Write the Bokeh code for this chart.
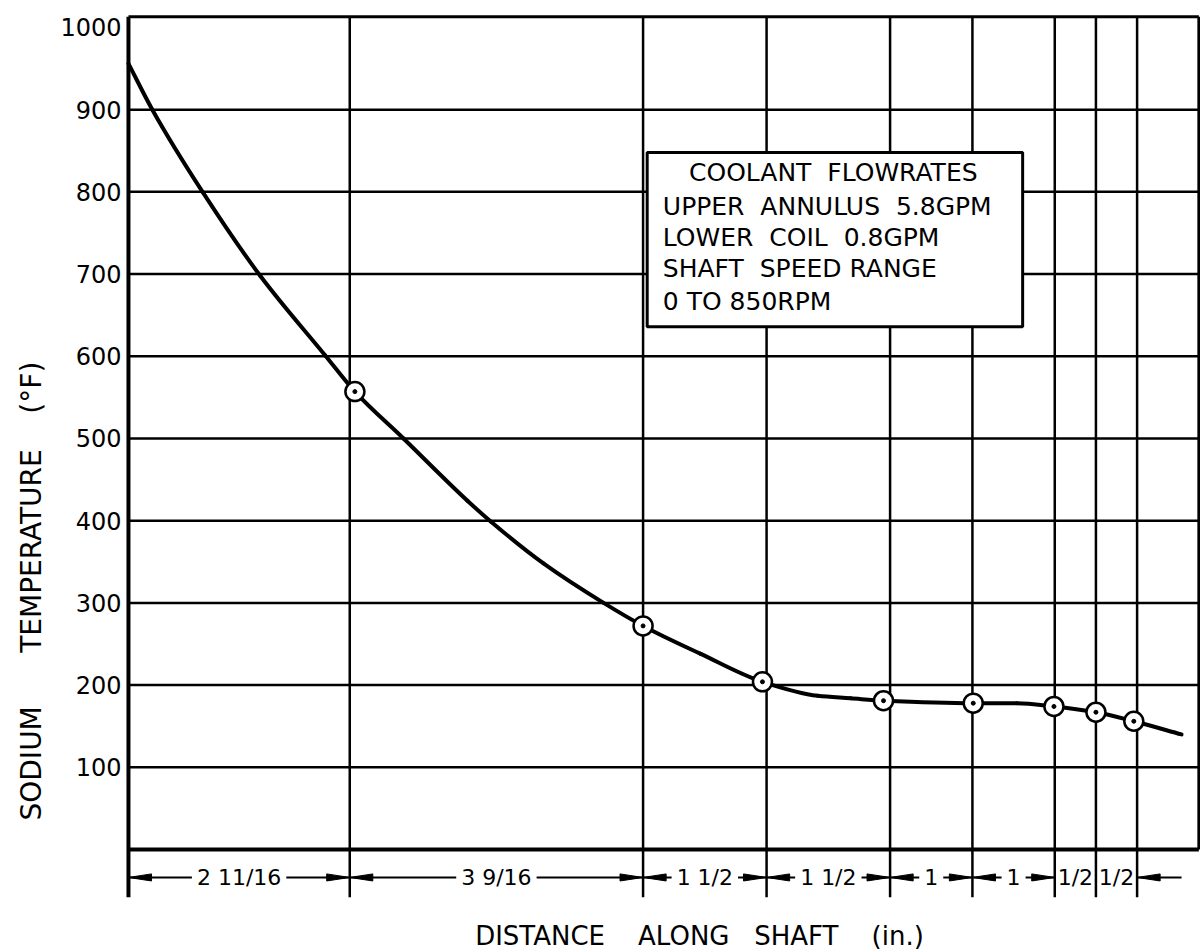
import math
import numpy as np
from bokeh.plotting import figure
from bokeh.models import Range1d, FixedTicker, Label, BoxAnnotation, Title
from bokeh.embed import file_html
from bokeh.resources import INLINE

FONT = "DejaVu Sans"
SP = "\u00a0"

# ---- data -------------------------------------------------------------
seg_lengths = [2.6875, 3.5625, 1.5, 1.5, 1.0, 1.0, 0.5, 0.5]          # inches between stations
seg_labels = ["2 11/16", "3 9/16", "1 1/2", "1 1/2", "1", "1", "1/2", "1/2"]
shaft_end = 13.0

# measured points (circles) - sodium temperature at stations
pt_x = [2.75, 6.25, 7.70, 9.17, 10.26, 11.24, 11.75, 12.21]
pt_y = [557, 272, 204, 181, 178, 174, 167, 156]

# faired curve
curve_x = [0.0, 0.29, 0.90, 1.60, 2.39, 2.75, 3.34, 4.12, 4.40, 5.04, 5.77, 6.25,
           6.95, 7.70, 8.37, 8.77, 9.17, 10.26, 10.79, 11.24, 11.75, 12.21, 12.79]
curve_y = [956, 900, 800, 698, 601, 557, 500, 424, 399, 348, 300, 272,
           238, 204, 187, 184, 181, 178, 178, 174, 167, 156, 140]

y_ticks = [100, 200, 300, 400, 500, 600, 700, 800, 900, 1000]
grid_y = [100, 200, 300, 400, 500, 600, 700, 800, 900]

legend_title = "COOLANT" + " " + SP + "FLOWRATES"
legend_lines = ["UPPER " + SP + "ANNULUS " + SP + "5.8GPM",
                "LOWER " + SP + "COIL " + SP + "0.8GPM",
                "SHAFT " + SP + "SPEED RANGE",
                "0 TO 850RPM"]
x_title = "DISTANCE " + SP * 3 + "ALONG " + SP * 2 + "SHAFT " + SP * 3 + "(in.)"
y_title = "SODIUM " + SP * 5 + "TEMPERATURE " + SP * 3 + "(°F)"

# ---- layout constants --------------------------------------------------
frame_top = 1013          # drawn top border of the chart
dim_y = -34               # dimension line level
dim_low = -58             # bottom of the extension lines

stations = np.concatenate([[0.0], np.cumsum(seg_lengths)])

p = figure(width=1200, height=952,
           x_range=Range1d(-0.036, 13.02), y_range=Range1d(-125.3, 1018.2),
           output_backend="svg", toolbar_location=None,
           x_axis_location=None,
           min_border_left=125, min_border_right=0,
           min_border_top=12, min_border_bottom=0)
p.outline_line_color = None
p.grid.visible = False
p.background_fill_color = "white"
p.border_fill_color = "white"

ax = p.yaxis[0]
ax.ticker = FixedTicker(ticks=y_ticks)
ax.axis_line_color = None
ax.major_tick_line_color = None
ax.minor_tick_line_color = None
ax.major_tick_out = 0
ax.major_label_standoff = 4
ax.major_label_text_font = FONT
ax.major_label_text_font_size = "24px"
ax.major_label_text_color = "black"

p.add_layout(Title(text=y_title, align="left", offset=132, standoff=20,
                   text_font=FONT, text_font_size="28px", text_font_style="normal",
                   text_color="black"), "left")

ink = "black"

# horizontal grid
n = len(grid_y)
p.segment(x0=[0.0] * n, y0=grid_y, x1=[shaft_end] * n, y1=grid_y,
          line_color=ink, line_width=2.5)
# top border
p.segment(x0=[0.0], y0=[frame_top], x1=[shaft_end], y1=[frame_top],
          line_color=ink, line_width=3)
# station lines
st = list(stations[1:])
p.segment(x0=st, y0=[dim_low] * len(st), x1=st, y1=[frame_top] * len(st),
          line_color=ink, line_width=2.5)
# left axis line
p.segment(x0=[0.0], y0=[dim_low], x1=[0.0], y1=[frame_top],
          line_color=ink, line_width=4)
# right border
p.segment(x0=[shaft_end], y0=[0], x1=[shaft_end], y1=[frame_top],
          line_color=ink, line_width=3)
# bottom axis line
p.segment(x0=[0.0], y0=[0], x1=[shaft_end], y1=[0],
          line_color=ink, line_width=4)

# ---- dimension arrows ---------------------------------------------------
head_len = 0.28
head_half = 4.3
dx0, dx1 = [], []
tri_xs, tri_ys = [], []

def head(tip, direction):
    base = tip - direction * head_len
    tri_xs.append([tip, base, base])
    tri_ys.append([dim_y, dim_y + head_half, dim_y - head_half])

for i, L in enumerate(seg_lengths):
    a, b = stations[i], stations[i + 1]
    if L >= 1.0:
        dx0.append(a)
        dx1.append(b)
        head(a, -1)
        head(b, +1)

tail_end = 12.79
dx0.append(stations[-1])
dx1.append(tail_end)
head(stations[-1], -1)

p.segment(x0=dx0, y0=[dim_y] * len(dx0), x1=dx1, y1=[dim_y] * len(dx1),
          line_color=ink, line_width=2)
p.patches(xs=tri_xs, ys=tri_ys, fill_color=ink, line_color=ink, line_width=1)

for i, (L, txt) in enumerate(zip(seg_lengths, seg_labels)):
    mid = (stations[i] + stations[i + 1]) / 2
    kw = dict(x=mid, y=dim_y, text=txt, text_align="center", text_baseline="middle",
              text_font=FONT, text_font_size="22px", text_color=ink)
    if L >= 1.0:
        kw.update(background_fill_color="white", padding=5)
    p.add_layout(Label(**kw))

# ---- smooth faired curve (monotone cubic drawn as Bezier segments) ------------
cx = np.asarray(curve_x, float)
cy = np.asarray(curve_y, float)
h = np.diff(cx)
d = np.diff(cy) / h
m = np.zeros_like(cx)
m[0], m[-1] = d[0], d[-1]
for i in range(1, len(cx) - 1):
    if d[i - 1] * d[i] <= 0:
        m[i] = 0.0
    else:
        w1 = 2 * h[i] + h[i - 1]
        w2 = h[i] + 2 * h[i - 1]
        m[i] = (w1 + w2) / (w1 / d[i - 1] + w2 / d[i])
p.bezier(x0=cx[:-1], y0=cy[:-1], x1=cx[1:], y1=cy[1:],
         cx0=cx[:-1] + h / 3, cy0=cy[:-1] + m[:-1] * h / 3,
         cx1=cx[1:] - h / 3, cy1=cy[1:] - m[1:] * h / 3,
         line_color=ink, line_width=4, line_cap="round")

p.scatter(pt_x, pt_y, marker="circle", size=19, fill_color="white",
          line_color=ink, line_width=2.5)
p.scatter(pt_x, pt_y, marker="circle", size=4, fill_color=ink, line_color=ink)

# ---- note box --------------------------------------------------------------
box = BoxAnnotation(left=6.30, right=10.86, top=848, bottom=636,
                    fill_color="white", fill_alpha=1.0,
                    line_color=ink, line_width=3, line_alpha=1.0)
p.add_layout(box)
p.add_layout(Label(x=8.56, y=823, text=legend_title, text_align="center",
                   text_baseline="middle", text_font=FONT, text_font_size="25px",
                   text_color=ink))
for txt, yy in zip(legend_lines, [782, 745, 707, 667]):
    p.add_layout(Label(x=6.49, y=yy, text=txt, text_align="left",
                       text_baseline="middle", text_font=FONT, text_font_size="25px",
                       text_color=ink))

# ---- x title ---------------------------------------------------------------
p.add_layout(Label(x=6.935, y=-105.8, text=x_title,
                   text_align="center", text_baseline="middle", text_font=FONT,
                   text_font_size="26px", text_color=ink))

open("out.html", "w").write(file_html(p, INLINE))
